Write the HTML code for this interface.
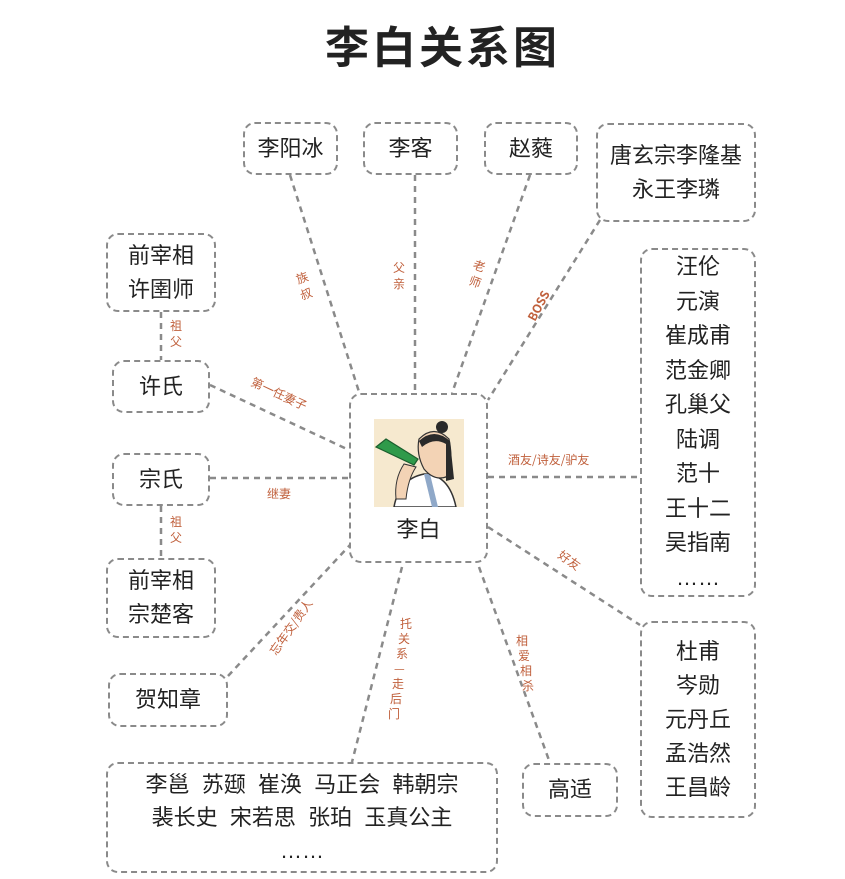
<!DOCTYPE html>
<html><head><meta charset="utf-8"><style>
body{margin:0;background:#fff;}
#c{position:relative;width:845px;height:879px;font-family:"Liberation Sans","Noto Sans CJK SC",sans-serif;color:#222;}
.b{position:absolute;border:2.5px dashed #8a8a8a;border-radius:12px;box-sizing:border-box;display:flex;flex-direction:column;align-items:center;justify-content:center;font-size:22px;line-height:34px;text-align:center;background:#fff;}
.t{position:absolute;left:20px;width:845px;top:12px;text-align:center;font-size:44px;font-weight:bold;letter-spacing:3px;}
svg{position:absolute;left:0;top:0;}
.l{font-size:12px;fill:#c0603c;font-family:"Noto Sans CJK SC",sans-serif;}
</style></head><body><div id="c">
<svg width="845" height="879">
<g stroke="#8a8a8a" stroke-width="2.5" stroke-dasharray="6,5" fill="none">
<line x1="290" y1="175" x2="360" y2="395"/>
<line x1="415" y1="175" x2="415" y2="393"/>
<line x1="530" y1="175" x2="452" y2="393"/>
<line x1="600" y1="220" x2="488" y2="400"/>
<line x1="161" y1="312" x2="161" y2="360"/>
<line x1="161" y1="506" x2="161" y2="558"/>
<line x1="210" y1="385" x2="349" y2="450"/>
<line x1="210" y1="478" x2="349" y2="478"/>
<line x1="488" y1="477" x2="640" y2="477"/>
<line x1="488" y1="527" x2="640" y2="625"/>
<line x1="228" y1="676" x2="350" y2="545"/>
<line x1="402" y1="567" x2="352" y2="762"/>
<line x1="479" y1="567" x2="550" y2="763"/>
</g>
<text class="l" transform="translate(298,284) rotate(-20)">族</text>
<text class="l" transform="translate(302,300) rotate(-20)">叔</text>
<text class="l" x="393" y="272">父</text><text class="l" x="393" y="288">亲</text>
<text class="l" transform="translate(472,268) rotate(20)">老</text>
<text class="l" transform="translate(468,284) rotate(20)">师</text>
<text class="l" transform="translate(535,322) rotate(-62)" font-weight="bold" font-family="Liberation Sans">BOSS</text>
<text class="l" transform="translate(250,385) rotate(25)">第一任妻子</text>
<text class="l" x="267" y="498">继妻</text>
<text class="l" x="170" y="330">祖</text><text class="l" x="170" y="346">父</text>
<text class="l" x="170" y="526">祖</text><text class="l" x="170" y="542">父</text>
<text class="l" x="508" y="464">酒友/诗友/驴友</text>
<text class="l" transform="translate(557,557) rotate(35)">好友</text>
<text class="l" transform="translate(276,656) rotate(-55)">忘年交/贵人</text>
<text class="l" x="400" y="628">托</text><text class="l" x="398" y="643">关</text><text class="l" x="396" y="658">系</text><text class="l" x="394" y="673">—</text><text class="l" x="392" y="688">走</text><text class="l" x="390" y="703">后</text><text class="l" x="388" y="718">门</text>
<text class="l" x="516" y="645">相</text><text class="l" x="518" y="660">爱</text><text class="l" x="520" y="675">相</text><text class="l" x="522" y="690">杀</text>
</svg>
<div class="t">李白关系图</div>
<div class="b" style="left:243px;top:122px;width:95px;height:53px">李阳冰</div>
<div class="b" style="left:363px;top:122px;width:95px;height:53px">李客</div>
<div class="b" style="left:484px;top:122px;width:94px;height:53px">赵蕤</div>
<div class="b" style="left:596px;top:123px;width:160px;height:99px">唐玄宗李隆基<br>永王李璘</div>
<div class="b" style="left:106px;top:233px;width:110px;height:79px">前宰相<br>许圉师</div>
<div class="b" style="left:112px;top:360px;width:98px;height:53px">许氏</div>
<div class="b" style="left:112px;top:453px;width:98px;height:53px">宗氏</div>
<div class="b" style="left:106px;top:558px;width:110px;height:80px">前宰相<br>宗楚客</div>
<div class="b" style="left:108px;top:673px;width:120px;height:54px">贺知章</div>
<div class="b" style="left:349px;top:393px;width:139px;height:170px;justify-content:flex-start;padding-top:24px">
<svg width="90" height="88" viewBox="0 0 90 88" style="position:static">
<rect width="90" height="88" fill="#f6e9cf"/>
<path d="M20 88 Q25 60 50 55 Q75 55 82 88Z" fill="#fff" stroke="#333" stroke-width="1.5"/>
<path d="M50 55 L58 88 L64 88 L56 55Z" fill="#8fa8c8"/>
<path d="M45 20 Q60 5 75 20 Q80 45 72 58 Q60 62 50 50 Q42 35 45 20Z" fill="#f3d3b5" stroke="#333" stroke-width="1.2"/>
<path d="M45 22 Q60 8 76 22 L80 60 L72 62 L72 25 Q60 18 48 28Z" fill="#2a2a2a"/>
<circle cx="68" cy="8" r="6" fill="#2a2a2a"/>
<path d="M2 28 L12 20 L44 40 L40 46 Z" fill="#2f9a4a" stroke="#1b5e2d" stroke-width="1.2"/>
<path d="M30 45 Q20 60 22 80 L32 80 Q34 60 42 48Z" fill="#f3d3b5" stroke="#333" stroke-width="1"/>
</svg>
<div style="margin-top:6px">李白</div></div>
<div class="b" style="left:640px;top:248px;width:116px;height:349px;line-height:34.5px">汪伦<br>元演<br>崔成甫<br>范金卿<br>孔巢父<br>陆调<br>范十<br>王十二<br>吴指南<br>……</div>
<div class="b" style="left:640px;top:621px;width:116px;height:197px">杜甫<br>岑勋<br>元丹丘<br>孟浩然<br>王昌龄</div>
<div class="b" style="left:522px;top:763px;width:96px;height:54px">高适</div>
<div class="b" style="left:106px;top:762px;width:392px;height:111px;line-height:33px">李邕&nbsp; 苏颋&nbsp; 崔涣&nbsp; 马正会&nbsp; 韩朝宗<br>裴长史&nbsp; 宋若思&nbsp; 张珀&nbsp; 玉真公主<br>……</div>
</div></body></html>
